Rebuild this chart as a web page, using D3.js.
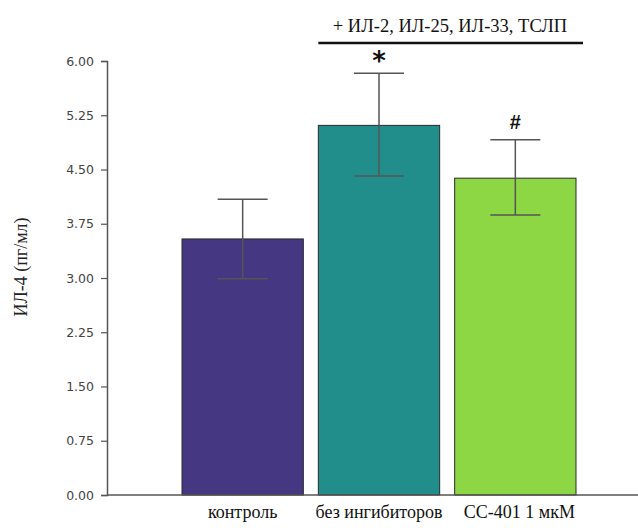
<!DOCTYPE html>
<html lang="en">
<head>
<meta charset="UTF-8">
<title>IL-4</title>
<script src="https://d3js.org/d3.v7.min.js"></script>
<style>
  body { margin: 0; background: #fff; }
  svg { display: block; }
</style>
</head>
<body>
<div id="chart"></div>
<script>
  // data
  var categories = ['контроль', 'без ингибиторов', 'CC-401 1 мкМ'];
  var means = [3.54, 5.11, 4.38];
  var errLow = [2.99, 4.41, 3.87];
  var errHigh = [4.09, 5.83, 4.91];
  var marks = ['', '*', '#'];
  var yTicks = [0, 0.75, 1.5, 2.25, 3, 3.75, 4.5, 5.25, 6];
  var colors = ['#453781', '#218e8b', '#8dd644'];

  var serif = 'Liberation Serif';
  var width = 638, height = 528;
  var margin = { left: 107, top: 61, right: 0, bottom: 33 };

  var svg = d3.select('#chart').append('svg')
    .attr('width', width)
    .attr('height', height);

  var y = d3.scaleLinear().domain([0, 6]).range([height - margin.bottom, margin.top]);
  var x = d3.scaleBand().domain(categories).range([182, 576]).paddingInner(0.11).paddingOuter(0);

  // bars
  svg.selectAll('rect.bar')
    .data(categories)
    .enter().append('rect')
    .attr('class', 'bar')
    .attr('x', function (d) { return x(d); })
    .attr('width', x.bandwidth())
    .attr('y', function (d, i) { return y(means[i]); })
    .attr('height', function (d, i) { return y(0) - y(means[i]); })
    .attr('fill', function (d, i) { return colors[i]; })
    .attr('stroke', '#2a2a2a')
    .attr('stroke-width', 1);

  // error bars
  var capHalf = 25;
  var err = svg.selectAll('g.err')
    .data(categories)
    .enter().append('g')
    .attr('class', 'err')
    .attr('stroke', '#555')
    .attr('stroke-width', 1.5);
  err.append('line')
    .attr('x1', function (d) { return x(d) + x.bandwidth() / 2; })
    .attr('x2', function (d) { return x(d) + x.bandwidth() / 2; })
    .attr('y1', function (d, i) { return y(errLow[i]); })
    .attr('y2', function (d, i) { return y(errHigh[i]); });
  err.append('line')
    .attr('x1', function (d) { return x(d) + x.bandwidth() / 2 - capHalf; })
    .attr('x2', function (d) { return x(d) + x.bandwidth() / 2 + capHalf; })
    .attr('y1', function (d, i) { return y(errHigh[i]); })
    .attr('y2', function (d, i) { return y(errHigh[i]); });
  err.append('line')
    .attr('x1', function (d) { return x(d) + x.bandwidth() / 2 - capHalf; })
    .attr('x2', function (d) { return x(d) + x.bandwidth() / 2 + capHalf; })
    .attr('y1', function (d, i) { return y(errLow[i]); })
    .attr('y2', function (d, i) { return y(errLow[i]); });

  // significance marks
  svg.selectAll('text.mark')
    .data(categories)
    .enter().append('text')
    .attr('class', 'mark')
    .attr('x', function (d) { return x(d) + x.bandwidth() / 2; })
    .attr('y', function (d, i) { return y(errHigh[i]) - (marks[i] === '*' ? 3 : 11); })
    .attr('text-anchor', 'middle')
    .attr('font-family', function (d, i) { return marks[i] === '*' ? 'DejaVu Sans' : 'Liberation Sans'; })
    .attr('font-size', function (d, i) { return marks[i] === '*' ? 26 : 20; })
    .attr('font-weight', 'bold')
    .attr('fill', '#111')
    .text(function (d, i) { return marks[i]; });

  // y axis
  var yAxis = d3.axisLeft(y)
    .tickValues(yTicks)
    .tickSize(6)
    .tickPadding(7)
    .tickFormat(d3.format('.2f'));
  var yg = svg.append('g')
    .attr('transform', 'translate(' + margin.left + ',0)')
    .call(yAxis)
    .attr('font-family', 'DejaVu Sans')
    .attr('font-size', 12.5);
  yg.select('.domain').attr('stroke', '#555').attr('stroke-width', 1.5);
  yg.selectAll('.tick line').attr('stroke', '#555').attr('stroke-width', 1.2);
  yg.selectAll('.tick text').attr('fill', '#444');

  // x axis line
  svg.append('line')
    .attr('x1', margin.left)
    .attr('x2', width)
    .attr('y1', y(0))
    .attr('y2', y(0))
    .attr('stroke', '#555')
    .attr('stroke-width', 1.5);

  // category labels
  svg.selectAll('text.cat')
    .data(categories)
    .enter().append('text')
    .attr('class', 'cat')
    .attr('x', function (d, i) { return x(d) + x.bandwidth() / 2 + (i === 2 ? 4 : 0); })
    .attr('y', 518)
    .attr('text-anchor', 'middle')
    .attr('font-family', serif)
    .attr('font-size', 18)
    .attr('fill', '#111')
    .text(function (d) { return d; });

  // y axis title
  svg.append('text')
    .attr('transform', 'translate(27,267) rotate(-90)')
    .attr('text-anchor', 'middle')
    .attr('font-family', serif)
    .attr('font-size', 18)
    .attr('fill', '#222')
    .text('ИЛ-4 (пг/мл)');

  // treatment bracket
  var x1 = x(categories[1]), x2 = x(categories[2]) + x.bandwidth();
  svg.append('line')
    .attr('x1', x1)
    .attr('x2', x2 + 7)
    .attr('y1', 43)
    .attr('y2', 43)
    .attr('stroke', '#111')
    .attr('stroke-width', 2.5);
  svg.append('text')
    .attr('x', 450)
    .attr('y', 32)
    .attr('text-anchor', 'middle')
    .attr('font-family', serif)
    .attr('font-size', 18.5)
    .attr('fill', '#111')
    .text('+ ИЛ-2, ИЛ-25, ИЛ-33, ТСЛП');
</script>
</body>
</html>
